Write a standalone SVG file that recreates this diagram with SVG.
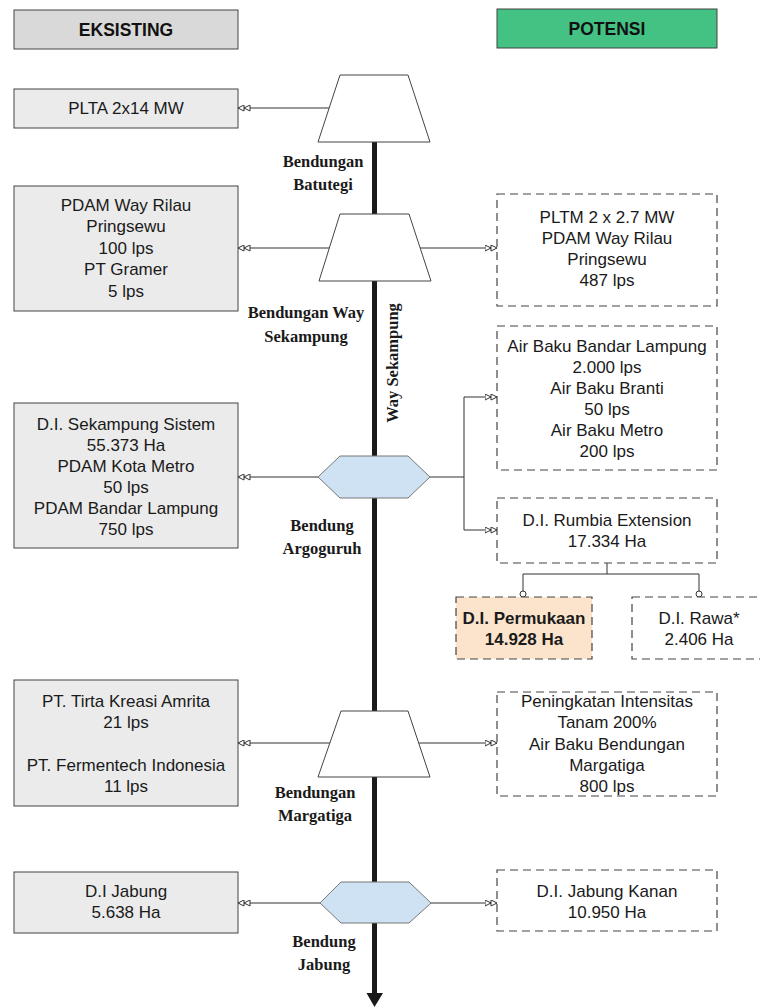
<svg xmlns="http://www.w3.org/2000/svg" width="760" height="1008" viewBox="0 0 760 1008">
  <style>
    .hdr { stroke: #444; stroke-width: 1; }
    .ex { fill: #ebebeb; stroke: #444; stroke-width: 1; }
    .pot { fill: #ffffff; stroke: #444; stroke-width: 1.2; stroke-dasharray: 8 5; }
    .hl { fill: #fce4cc; }
    .dam { fill: #ffffff; stroke: #444; stroke-width: 1; }
    .weir { fill: #cfe2f3; stroke: #777; stroke-width: 1; }
    .t { font-family: "Liberation Sans", Arial, sans-serif; font-size: 17px; fill: #1a1a1a; text-anchor: middle; }
    .b { font-weight: bold; }
    .h { font-family: "Liberation Sans", Arial, sans-serif; font-size: 17.5px; font-weight: bold; fill: #111; text-anchor: middle; }
    .lbl { font-family: "Liberation Serif", "Times New Roman", serif; font-size: 16.5px; font-weight: bold; fill: #1a1a1a; text-anchor: middle; }
    .c { fill: none; stroke: #333; stroke-width: 1; }
  </style>
  <defs>
    <marker id="dbl" viewBox="0 0 13 7" markerWidth="13" markerHeight="7" refX="12.5" refY="3.5" orient="auto" markerUnits="userSpaceOnUse">
      <path d="M0.5,0.5 L6.5,3.5 L0.5,6.5 Z M6.5,0.5 L12.5,3.5 L6.5,6.5 Z" fill="#ffffff" stroke="#333" stroke-width="1"/>
    </marker>
    <marker id="dot" viewBox="-4 -4 8 8" markerWidth="8" markerHeight="8" refX="0" refY="0" orient="auto" markerUnits="userSpaceOnUse">
      <circle r="3" fill="#ffffff" stroke="#333" stroke-width="1"/>
    </marker>
  </defs>

  <rect width="760" height="1008" fill="#ffffff"/>

  <!-- column headers -->
  <g id="hdr-eksisting">
    <rect class="hdr" x="14" y="10" width="224" height="39" fill="#d9d9d9"/>
    <text class="h" x="126" y="36">EKSISTING</text>
  </g>
  <g id="hdr-potensi">
    <rect class="hdr" x="497" y="9" width="220" height="39" fill="#43c283"/>
    <text class="h" x="607" y="35">POTENSI</text>
  </g>

  <!-- river: Way Sekampung -->
  <g id="river">
    <line x1="374.5" y1="140" x2="374.5" y2="994" stroke="#1a1a1a" stroke-width="5"/>
    <polygon points="366.5,993 383,993 374.5,1007" fill="#1a1a1a"/>
    <text class="lbl" transform="translate(398,363) rotate(-90)">Way Sekampung</text>
  </g>

  <!-- connectors -->
  <g id="connectors">
    <line class="c" x1="329" y1="108" x2="238" y2="108" marker-end="url(#dbl)"/>
    <line class="c" x1="329" y1="248" x2="238" y2="248" marker-end="url(#dbl)"/>
    <line class="c" x1="419" y1="248" x2="497" y2="248" marker-end="url(#dbl)"/>
    <line class="c" x1="318" y1="477" x2="238" y2="477" marker-end="url(#dbl)"/>
    <path class="c" d="M430,477 H464 M464,397 V530"/>
    <line class="c" x1="464" y1="397" x2="497" y2="397" marker-end="url(#dbl)"/>
    <line class="c" x1="464" y1="530" x2="497" y2="530" marker-end="url(#dbl)"/>
    <path class="c" d="M607,563 V574 M523,574 H699"/>
    <line class="c" x1="523" y1="574" x2="523" y2="594" marker-end="url(#dot)"/>
    <line class="c" x1="699" y1="574" x2="699" y2="594" marker-end="url(#dot)"/>
    <line class="c" x1="330" y1="743" x2="238" y2="743" marker-end="url(#dbl)"/>
    <line class="c" x1="419" y1="743" x2="497" y2="743" marker-end="url(#dbl)"/>
    <line class="c" x1="320" y1="903" x2="238" y2="903" marker-end="url(#dbl)"/>
    <line class="c" x1="431" y1="903" x2="497" y2="903" marker-end="url(#dbl)"/>
  </g>

  <!-- structures on the river -->
  <g id="batutegi">
    <polygon class="dam" points="340,75 408,75 430,142 318,142"/>
    <text class="lbl" x="323" y="167">Bendungan</text>
    <text class="lbl" x="323" y="190">Batutegi</text>
  </g>
  <g id="way-sekampung">
    <polygon class="dam" points="340,214 409,214 431,281 319,281"/>
    <text class="lbl" x="306" y="318">Bendungan Way</text>
    <text class="lbl" x="306" y="342">Sekampung</text>
  </g>
  <g id="argoguruh">
    <polygon class="weir" points="318,477 340,456 408,456 430,477 408,498 340,498"/>
    <text class="lbl" x="322" y="531">Bendung</text>
    <text class="lbl" x="322" y="554">Argoguruh</text>
  </g>
  <g id="margatiga">
    <polygon class="dam" points="341,711 408,711 430,777 318,777"/>
    <text class="lbl" x="315" y="798">Bendungan</text>
    <text class="lbl" x="315" y="821">Margatiga</text>
  </g>
  <g id="jabung">
    <polygon class="weir" points="320,903 341,882 409,882 431,903 409,923 341,923"/>
    <text class="lbl" x="324" y="947">Bendung</text>
    <text class="lbl" x="324" y="970">Jabung</text>
  </g>

  <!-- existing users -->
  <g id="ex-plta">
    <rect class="ex" x="14" y="89" width="224" height="39"/>
    <text class="t" x="126" y="114">PLTA 2x14 MW</text>
  </g>
  <g id="ex-pdam-rilau">
    <rect class="ex" x="14" y="186" width="224" height="125"/>
    <text class="t" x="126" y="211">PDAM Way Rilau</text>
    <text class="t" x="126" y="232">Pringsewu</text>
    <text class="t" x="126" y="254">100 lps</text>
    <text class="t" x="126" y="275">PT Gramer</text>
    <text class="t" x="126" y="297">5 lps</text>
  </g>
  <g id="ex-sekampung">
    <rect class="ex" x="14" y="403" width="224" height="145"/>
    <text class="t" x="126" y="430">D.I. Sekampung Sistem</text>
    <text class="t" x="126" y="451">55.373 Ha</text>
    <text class="t" x="126" y="472">PDAM Kota Metro</text>
    <text class="t" x="126" y="493">50 lps</text>
    <text class="t" x="126" y="514">PDAM Bandar Lampung</text>
    <text class="t" x="126" y="535">750 lps</text>
  </g>
  <g id="ex-industri">
    <rect class="ex" x="14" y="680" width="224" height="126"/>
    <text class="t" x="126" y="707">PT. Tirta Kreasi Amrita</text>
    <text class="t" x="126" y="728">21 lps</text>
    <text class="t" x="126" y="771">PT. Fermentech Indonesia</text>
    <text class="t" x="126" y="792">11 lps</text>
  </g>
  <g id="ex-jabung">
    <rect class="ex" x="14" y="872" width="224" height="61"/>
    <text class="t" x="126" y="897">D.I Jabung</text>
    <text class="t" x="126" y="918">5.638 Ha</text>
  </g>

  <!-- potential uses -->
  <g id="pot-pltm">
    <rect class="pot" x="497" y="194" width="220" height="112"/>
    <text class="t" x="607" y="223">PLTM 2 x 2.7 MW</text>
    <text class="t" x="607" y="244">PDAM Way Rilau</text>
    <text class="t" x="607" y="265">Pringsewu</text>
    <text class="t" x="607" y="286">487 lps</text>
  </g>
  <g id="pot-airbaku">
    <rect class="pot" x="497" y="326" width="220" height="144"/>
    <text class="t" x="607" y="352">Air Baku Bandar Lampung</text>
    <text class="t" x="607" y="373">2.000 lps</text>
    <text class="t" x="607" y="394">Air Baku Branti</text>
    <text class="t" x="607" y="415">50 lps</text>
    <text class="t" x="607" y="436">Air Baku Metro</text>
    <text class="t" x="607" y="457">200 lps</text>
  </g>
  <g id="pot-rumbia">
    <rect class="pot" x="497" y="498" width="220" height="65"/>
    <text class="t" x="607" y="526">D.I. Rumbia Extension</text>
    <text class="t" x="607" y="547">17.334 Ha</text>
  </g>
  <g id="pot-permukaan">
    <rect class="pot hl" x="456" y="597" width="136" height="62"/>
    <text class="t b" x="524" y="624">D.I. Permukaan</text>
    <text class="t b" x="524" y="645">14.928 Ha</text>
  </g>
  <g id="pot-rawa">
    <rect class="pot" x="632" y="597" width="134" height="62"/>
    <text class="t" x="699" y="624">D.I. Rawa*</text>
    <text class="t" x="699" y="645">2.406 Ha</text>
  </g>
  <g id="pot-margatiga">
    <rect class="pot" x="497" y="692" width="220" height="104"/>
    <text class="t" x="607" y="707">Peningkatan Intensitas</text>
    <text class="t" x="607" y="728">Tanam 200%</text>
    <text class="t" x="607" y="750">Air Baku Bendungan</text>
    <text class="t" x="607" y="771">Margatiga</text>
    <text class="t" x="607" y="792">800 lps</text>
  </g>
  <g id="pot-jabung-kanan">
    <rect class="pot" x="497" y="870" width="220" height="61"/>
    <text class="t" x="607" y="897">D.I. Jabung Kanan</text>
    <text class="t" x="607" y="918">10.950 Ha</text>
  </g>
</svg>
